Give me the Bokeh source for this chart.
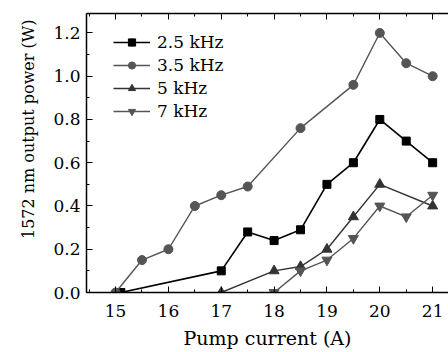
from bokeh.plotting import figure
from bokeh.models import LinearAxis, Range1d, Legend, LegendItem, Title, FixedTicker, CustomJSTickFormatter
from bokeh.embed import file_html
from bokeh.resources import INLINE

x_25 = [15.1, 17, 17.5, 18, 18.5, 19, 19.5, 20, 20.5, 21]
y_25 = [0.0, 0.10, 0.28, 0.24, 0.29, 0.50, 0.60, 0.80, 0.70, 0.60]
x_35 = [15, 15.5, 16, 16.5, 17, 17.5, 18.5, 19.5, 20, 20.5, 21]
y_35 = [0.0, 0.15, 0.20, 0.40, 0.45, 0.49, 0.76, 0.96, 1.20, 1.06, 1.00]
x_5 = [17, 18, 18.5, 19, 19.5, 20, 21]
y_5 = [0.0, 0.10, 0.12, 0.20, 0.35, 0.50, 0.40]
x_7 = [18, 18.5, 19, 19.5, 20, 20.5, 21]
y_7 = [0.0, 0.10, 0.15, 0.25, 0.40, 0.35, 0.45]
x_ticks = [15, 16, 17, 18, 19, 20, 21]
y_ticks = [0.0, 0.2, 0.4, 0.6, 0.8, 1.0, 1.2]

FONT = "DejaVu Serif"

p = figure(width=448, height=352, output_backend="svg", toolbar_location=None,
           x_range=Range1d(14.45, 21.3), y_range=Range1d(0, 1.29),
           min_border_left=86, min_border_top=13, min_border_right=0, min_border_bottom=60,
           x_axis_location=None, y_axis_location=None)
p.outline_line_color = None
p.grid.visible = False
p.background_fill_color = "white"
p.border_fill_color = "white"

def style(ax):
    ax.major_tick_in = 6
    ax.major_tick_out = 0
    ax.minor_tick_in = 3
    ax.minor_tick_out = 0
    ax.axis_line_color = "black"
    ax.axis_line_width = 1.5
    ax.major_tick_line_color = "black"
    ax.minor_tick_line_color = "black"
    ax.major_label_text_font = FONT
    ax.major_label_text_font_size = "17px"
    ax.major_label_text_color = "black"
    ax.axis_label_text_font = FONT
    ax.axis_label_text_font_size = "19px"
    ax.axis_label_text_font_style = "normal"
    ax.axis_label_text_color = "black"

minor_x = [14.5 + 0.5 * i for i in range(15)]
xb = LinearAxis(ticker=FixedTicker(ticks=x_ticks, minor_ticks=minor_x),
                axis_label="Pump current (A)")
style(xb)
xb.major_label_standoff = 12
xb.axis_label_standoff = 7
p.add_layout(xb, "below")

xt = LinearAxis(ticker=FixedTicker(ticks=x_ticks, minor_ticks=minor_x),
                formatter=CustomJSTickFormatter(code="return '';"))
style(xt)
p.add_layout(xt, "above")

yl = LinearAxis(ticker=FixedTicker(ticks=y_ticks, minor_ticks=[0.1 * i for i in range(13)]),
                formatter=CustomJSTickFormatter(code="return tick.toFixed(1);"))
style(yl)
yl.major_label_standoff = 6
p.add_layout(yl, "left")

ytitle = Title(text="1572 nm output power (W)", text_font=FONT, text_font_size="16px",
               text_font_style="normal", text_color="black", align="right", offset=6,
               standoff=26)
p.add_layout(ytitle, "left")

c1, c2, c3, c4 = "#000000", "#555555", "#333333", "#555555"
l1 = p.line(x_25, y_25, line_color=c1, line_width=1.6)
m1 = p.scatter(x_25, y_25, marker="square", size=8, color=c1)
l2 = p.line(x_35, y_35, line_color=c2, line_width=1.4)
m2 = p.scatter(x_35, y_35, marker="circle", size=9, color=c2)
l3 = p.line(x_5, y_5, line_color=c3, line_width=1.4)
m3 = p.scatter(x_5, y_5, marker="triangle", size=10, color=c3)
l4 = p.line(x_7, y_7, line_color=c4, line_width=1.4)
m4 = p.scatter(x_7, y_7, marker="inverted_triangle", size=10, color=c4)

legend = Legend(items=[
    LegendItem(label="2.5 kHz", renderers=[l1, m1]),
    LegendItem(label="3.5 kHz", renderers=[l2, m2]),
    LegendItem(label="5 kHz", renderers=[l3, m3]),
    LegendItem(label="7 kHz", renderers=[l4, m4]),
], location=(27, 171))
legend.border_line_color = None
legend.background_fill_alpha = 0
legend.label_text_font = FONT
legend.label_text_font_size = "17px"
legend.label_text_color = "black"
legend.glyph_width = 37
legend.glyph_height = 18
legend.label_height = 18
legend.spacing = 3
legend.label_standoff = 7
legend.padding = 0
legend.margin = 0
p.add_layout(legend)

open("out.html", "w").write(file_html(p, INLINE))
